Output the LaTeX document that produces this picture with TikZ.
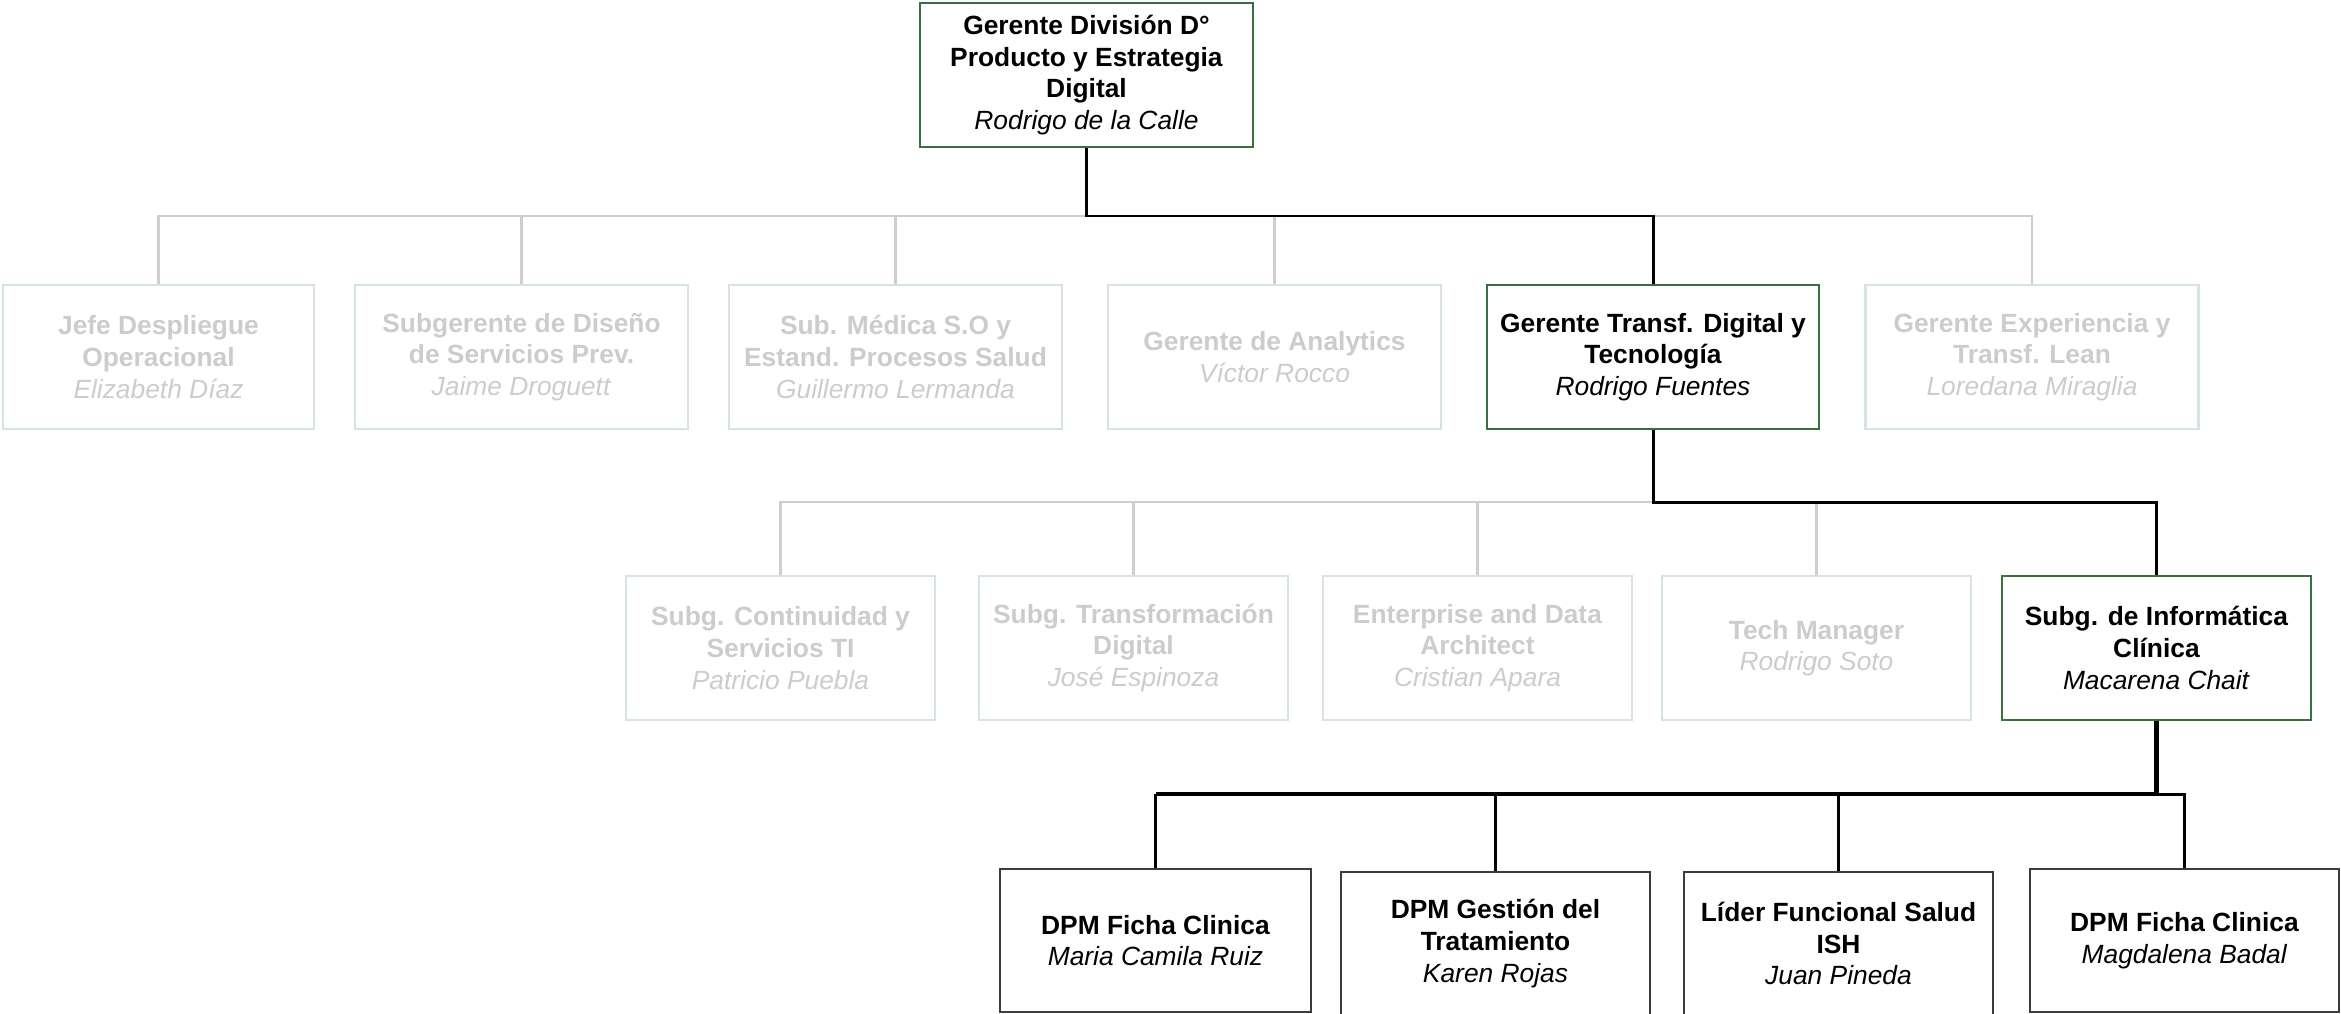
\documentclass[tikz,border=0pt]{standalone}
\usepackage{fontspec}
\setmainfont{Liberation Sans}
\usetikzlibrary{positioning,calc}
\definecolor{verde}{RGB}{56,112,64}
\definecolor{grisborde}{RGB}{214,228,220}
\definecolor{gristexto}{RGB}{204,204,204}
\definecolor{grislinea}{RGB}{206,206,206}
\definecolor{oscuro}{RGB}{60,60,60}

\begin{document}
\begin{tikzpicture}[font=\fontsize{7.5}{9}\selectfont, every node/.style={align=center},
  caja/.style={rectangle, inner sep=0pt, minimum width=3.33cm, minimum height=1.44cm, line width=0.6pt},
  inactivo/.style={caja, draw=grisborde, text=gristexto},
  activo/.style={caja, draw=verde, text=black},
  equipo/.style={caja, draw=oscuro, minimum height=1.43cm, line width=0.7pt},
  lineagris/.style={draw=grislinea, line width=0.6pt},
  lineanegra/.style={draw=black, line width=0.85pt}]
\useasboundingbox (0,0) rectangle (23.41,-10.13);

% nivel 1
\node[activo] (gerente) at (10.865,-0.75) {\textbf{Gerente División D°}\\\textbf{Producto y Estrategia}\\\textbf{Digital}\\\textit{Rodrigo de la Calle}};

% nivel 2
\node[inactivo, minimum width=3.11cm] (jefe) at (1.585,-3.57) {\textbf{Jefe Despliegue}\\\textbf{Operacional}\\\textit{Elizabeth Díaz}};
\node[inactivo] (diseno) at (5.215,-3.57) {\textbf{Subgerente de Diseño}\\\textbf{de Servicios Prev.}\\\textit{Jaime Droguett}};
\node[inactivo] (medica) at (8.955,-3.57) {\textbf{Sub. Médica S.O y}\\\textbf{Estand. Procesos Salud}\\\textit{Guillermo Lermanda}};
\node[inactivo] (analytics) at (12.745,-3.57) {\textbf{Gerente de Analytics}\\\textit{Víctor Rocco}};
\node[activo, minimum width=3.32cm] (transf) at (16.53,-3.57) {\textbf{Gerente Transf. Digital y}\\\textbf{Tecnología}\\\textit{Rodrigo Fuentes}};
\node[inactivo] (lean) at (20.32,-3.57) {\textbf{Gerente Experiencia y}\\\textbf{Transf. Lean}\\\textit{Loredana Miraglia}};

% nivel 3
\node[inactivo, minimum width=3.09cm] (continuidad) at (7.805,-6.48) {\textbf{Subg. Continuidad y}\\\textbf{Servicios TI}\\\textit{Patricio Puebla}};
\node[inactivo, minimum width=3.09cm] (transformacion) at (11.335,-6.48) {\textbf{Subg. Transformación}\\\textbf{Digital}\\\textit{José Espinoza}};
\node[inactivo, minimum width=3.09cm] (arquitecto) at (14.775,-6.48) {\textbf{Enterprise and Data}\\\textbf{Architect}\\\textit{Cristian Apara}};
\node[inactivo, minimum width=3.09cm] (tech) at (18.165,-6.48) {\textbf{Tech Manager}\\\textit{Rodrigo Soto}};
\node[activo, minimum width=3.09cm] (informatica) at (21.565,-6.48) {\textbf{Subg. de Informática}\\\textbf{Clínica}\\\textit{Macarena Chait}};

% nivel 4
\node[equipo, minimum width=3.11cm] (fichaA) at (11.555,-9.405) {\textbf{DPM Ficha Clinica}\\\textit{Maria Camila Ruiz}};
\node[equipo, minimum width=3.09cm] (gestion) at (14.955,-9.435) {\textbf{DPM Gestión del}\\\textbf{Tratamiento}\\\textit{Karen Rojas}};
\node[equipo, minimum width=3.09cm] (lider) at (18.385,-9.435) {\textbf{Líder Funcional Salud}\\\textbf{ISH}\\\textit{Juan Pineda}};
\node[equipo, minimum width=3.09cm] (fichaB) at (21.845,-9.405) {\textbf{DPM Ficha Clinica}\\\textit{Magdalena Badal}};

\coordinate (bus1) at (10.865,-2.16);
\coordinate (bus2) at (16.53,-5.02);
\coordinate (bus3) at (21.565,-7.94);

% conectores
\foreach \n in {jefe,diseno,medica,analytics,lean}
  \draw[lineagris] (gerente.south) -- (bus1) -| (\n.north);
\draw[lineanegra] (gerente.south) -- (bus1) -| (transf.north);
\foreach \n in {continuidad,transformacion,arquitecto,tech}
  \draw[lineagris] (transf.south) -- (bus2) -| (\n.north);
\draw[lineanegra] (transf.south) -- (bus2) -| (informatica.north);
\foreach \n in {gestion,lider}
  \draw[lineanegra] (bus3) -| (\n.north);
\draw[lineanegra, line width=1.3pt] (informatica.south) -- (bus3) -- (bus3 -| fichaA.north);
\draw[lineanegra] (bus3 -| fichaA.north) -- (fichaA.north);
\draw[lineanegra] (bus3) -| (fichaB.north);
\end{tikzpicture}
\end{document}
